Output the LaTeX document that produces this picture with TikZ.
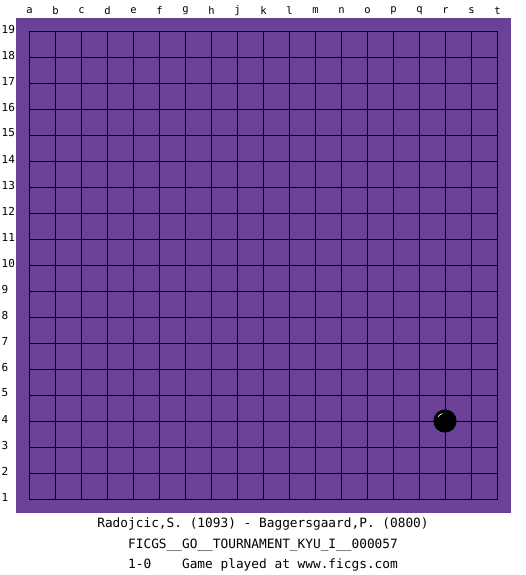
\documentclass[tikz,border=0pt]{standalone}
\usepackage{fontspec}
\setmonofont{DejaVu Sans Mono}
\definecolor{boardpurple}{RGB}{106,65,150}
\tikzset{
  gridline/.style={black, line width=1pt},
  collabel/.style={font=\ttfamily\fontsize{10.5}{12}\selectfont, inner sep=0pt},
  rowlabel/.style={font=\ttfamily\fontsize{11}{12}\selectfont, inner sep=0pt, anchor=west},
  caption/.style={font=\ttfamily\fontsize{12.8}{14}\selectfont, inner sep=0pt, anchor=base},
  stone/.style={fill=black, draw=black, line width=0.6pt}
}
\begin{document}
\begin{tikzpicture}[x=1pt, y=-1pt]
\useasboundingbox (0,0) rectangle (525,575);
\fill[white] (0,0) rectangle (525,575);
\fill[boardpurple] (16,18) rectangle (511,513);
% grid
\foreach \i in {0,...,18} {
  \draw[gridline] ({29.5+26*\i},31.5) -- ({29.5+26*\i},499.5);
  \draw[gridline] (29.5,{31.5+26*\i}) -- (497.5,{31.5+26*\i});
}
% column labels
\foreach \l [count=\i from 0] in {a,b,c,d,e,f,g,h,j,k,l,m,n,o,p,q,r,s,t} {
  \node[collabel] (col\l) at ({29.5+26*\i},10.5) {\l};
}
% row labels
\foreach \r in {1,...,19} {
  \node[rowlabel] (row\r) at (1.5,{31.5+26*(19-\r)-2.5}) {\r};
}
% stone at r4
\node[circle, stone, minimum size=22.5pt, inner sep=0pt] (stoneR4) at (445,421) {};
\draw[white, line width=0.7pt] (stoneR4.center) ++(210:8) arc[start angle=210, end angle=250, radius=8];
% captions
\node[caption] (players) at (263,527) {Radojcic,S. (1093) - Baggersgaard,P. (0800)};
\node[caption] (tourn) at (263,548) {FICGS\_\_GO\_\_TOURNAMENT\_KYU\_I\_\_000057};
\node[caption] (result) at (263,568) {1-0\ \ \ \ Game played at www.ficgs.com};
\end{tikzpicture}
\end{document}
